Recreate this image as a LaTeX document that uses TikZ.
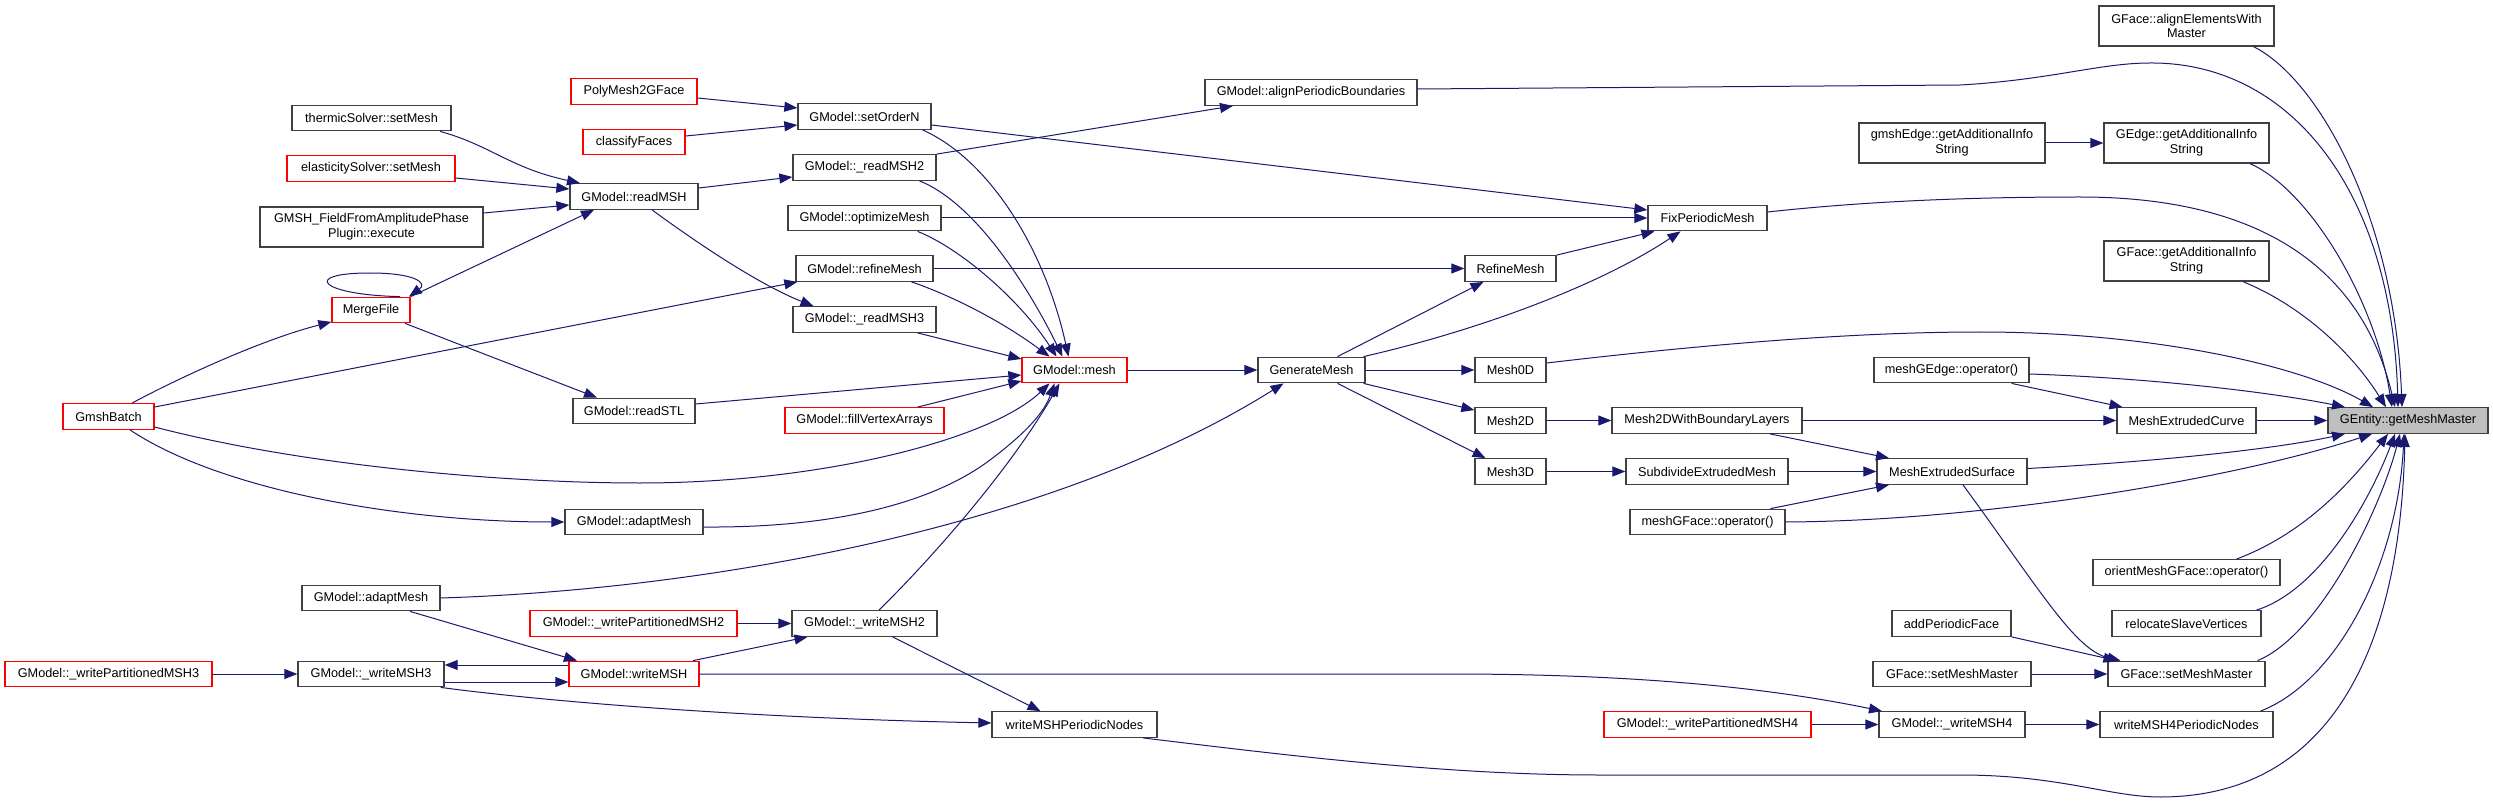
\documentclass[tikz,border=0pt]{standalone}
\usepackage{fontspec}
\setmainfont{Liberation Sans}
\usetikzlibrary{arrows.meta}
\definecolor{edgeblue}{HTML}{191970}
\definecolor{ndgray}{HTML}{404040}
\definecolor{rootfill}{HTML}{BFBFBF}
\newcommand\ndfont{\fontsize{12.7}{14.7}\selectfont}
\tikzset{
 nd/.style={draw=ndgray, line width=1.3pt, fill=white, inner sep=0pt, minimum height=25.5pt, font=\ndfont, text=black, align=center},
 rd/.style={nd, draw=red},
 ed/.style={draw=edgeblue, line width=1pt, -{Triangle[length=13pt,width=10pt]}},
}
\begin{document}
\begin{tikzpicture}[x=1pt,y=-1pt]
\fill[white] (0,0) rectangle (2493,802);
\useasboundingbox (0,0) rectangle (2493,802);
% nodes
\node[rd, minimum width=91pt] (gmshbatch) at (108.5,416.5) {GmshBatch};
\node[rd, minimum width=207pt] (wpm3) at (108.5,674) {GModel::\_writePartitionedMSH3};
\node[nd, minimum width=159pt] (thermic) at (371.5,118) {thermicSolver::setMesh};
\node[rd, minimum width=168pt] (elastic) at (371,168.5) {elasticitySolver::setMesh};
\node[nd, minimum width=223pt, minimum height=40pt] (gmshfield) at (371.5,227) {GMSH\_FieldFromAmplitudePhase\\Plugin::execute};
\node[rd, minimum width=78pt] (mergefile) at (371,310) {MergeFile};
\node[nd, minimum width=138pt] (adapttwo) at (371,598) {GModel::adaptMesh};
\node[nd, minimum width=146pt] (wmshthree) at (371,674) {GModel::\_writeMSH3};
\node[rd, minimum width=126pt] (poly) at (634,91.5) {PolyMesh2GFace};
\node[rd, minimum width=102pt] (classify) at (634,142) {classifyFaces};
\node[nd, minimum width=128pt] (readmsh) at (634,196.5) {GModel::readMSH};
\node[nd, minimum width=122pt] (readstl) at (634,411) {GModel::readSTL};
\node[nd, minimum width=138pt] (adaptone) at (634,522) {GModel::adaptMesh};
\node[rd, minimum width=207pt] (wpmtwo) at (633.5,623.5) {GModel::\_writePartitionedMSH2};
\node[rd, minimum width=130pt] (writemsh) at (634,674) {GModel::writeMSH};
\node[nd, minimum width=133pt] (setorder) at (864.5,116.5) {GModel::setOrderN};
\node[nd, minimum width=143pt] (readmshtwo) at (864.5,167.5) {GModel::\_readMSH2};
\node[nd, minimum width=153pt] (optimize) at (864.5,218) {GModel::optimizeMesh};
\node[nd, minimum width=137pt] (refinemesh) at (864.5,268.5) {GModel::refineMesh};
\node[nd, minimum width=143pt] (readmshthree) at (864.5,319.5) {GModel::\_readMSH3};
\node[rd, minimum width=159pt] (fillva) at (864.5,420.5) {GModel::fillVertexArrays};
\node[nd, minimum width=145pt] (wmshtwo) at (864.5,623.5) {GModel::\_writeMSH2};
\node[rd, minimum width=105pt] (mesh) at (1074.5,370) {GModel::mesh};
\node[nd, minimum width=165pt] (wmshpn) at (1074.5,724.5) {writeMSHPeriodicNodes};
\node[nd, minimum width=212pt] (alignpb) at (1311,92.5) {GModel::alignPeriodicBoundaries};
\node[nd, minimum width=107pt] (genmesh) at (1311.5,370) {GenerateMesh};
\node[nd, minimum width=91pt] (refinetwo) at (1510.5,268.5) {RefineMesh};
\node[nd, minimum width=71pt] (meshzero) at (1510.5,370) {Mesh0D};
\node[nd, minimum width=71pt] (meshtwod) at (1510.5,420.5) {Mesh2D};
\node[nd, minimum width=71pt] (meshthreed) at (1510.5,471.5) {Mesh3D};
\node[nd, minimum width=119pt] (fixpm) at (1707.5,218) {FixPeriodicMesh};
\node[nd, minimum width=190pt] (mtdbl) at (1707,420.5) {Mesh2DWithBoundaryLayers};
\node[nd, minimum width=162pt] (subdiv) at (1707,471.5) {SubdivideExtrudedMesh};
\node[nd, minimum width=155pt] (meshgface) at (1707.5,522) {meshGFace::operator()};
\node[rd, minimum width=207pt] (wpmfour) at (1707.5,724.5) {GModel::\_writePartitionedMSH4};
\node[nd, minimum width=186pt, minimum height=40pt] (gmshedge) at (1952,143) {gmshEdge::getAdditionalInfo\\String};
\node[nd, minimum width=155pt] (meshgedge) at (1951.5,370) {meshGEdge::operator()};
\node[nd, minimum width=150pt] (mes) at (1952,471.5) {MeshExtrudedSurface};
\node[nd, minimum width=119pt] (addpf) at (1951.5,623.5) {addPeriodicFace};
\node[nd, minimum width=158pt] (gfsmmone) at (1952,674) {GFace::setMeshMaster};
\node[nd, minimum width=146pt] (wmshfour) at (1952,724.5) {GModel::\_writeMSH4};
\node[nd, minimum width=175pt, minimum height=40pt] (gfaem) at (2186.5,26) {GFace::alignElementsWith\\Master};
\node[nd, minimum width=165pt, minimum height=40pt] (gegais) at (2186.5,143) {GEdge::getAdditionalInfo\\String};
\node[nd, minimum width=165pt, minimum height=40pt] (gfgais) at (2186.5,261) {GFace::getAdditionalInfo\\String};
\node[nd, minimum width=139pt] (mec) at (2186.5,420.5) {MeshExtrudedCurve};
\node[nd, minimum width=187pt] (omgf) at (2186.5,572.5) {orientMeshGFace::operator()};
\node[nd, minimum width=149pt] (rsv) at (2186.5,623.5) {relocateSlaveVertices};
\node[nd, minimum width=157pt] (gfsmmtwo) at (2186.5,674) {GFace::setMeshMaster};
\node[nd, minimum width=173pt] (wmfpn) at (2186.5,724.5) {writeMSH4PeriodicNodes};
\node[nd, minimum width=160pt, fill=rootfill] (gemm) at (2408,420.5) {GEntity::getMeshMaster};
% edges
\draw[ed] ([xshift=23.5pt]gmshbatch.north) .. controls (175,380) and (260,340) .. ([yshift=1.5pt]mergefile.south west);
\draw[ed] ([xshift=29pt]mergefile.north) .. controls (320,295) and (300,273) .. (370,273) .. controls (415,273) and (428,283) .. ([xshift=38pt]mergefile.north);
\draw[ed] (mergefile.north east) -- ([xshift=-40pt]readmsh.south);
\draw[ed] ([xshift=34pt]mergefile.south) -- ([xshift=-37pt]readstl.north);
\draw[ed] ([yshift=9.5pt]gmshbatch.east) -- ([xshift=2pt]refinemesh.south west);
\draw[ed] ([yshift=-10.5pt]gmshbatch.east) .. controls (300,465) and (500,483) .. (640,483) .. controls (820,483) and (990,440) .. ([xshift=-25pt]mesh.south);
\draw[ed] ([xshift=21.5pt]gmshbatch.south) .. controls (220,490) and (400,522) .. (adaptone.west);
\draw[ed] ([yshift=-5pt]adaptone.east) .. controls (830,528) and (930,505) .. (990,460) .. controls (1030,430) and (1045,410) .. ([xshift=-20pt]mesh.south);
\draw[ed] (adapttwo.east) .. controls (700,590) and (1050,530) .. ([xshift=-28pt]genmesh.south);
\draw[ed] ([xshift=39pt]adapttwo.south) -- ([xshift=-57pt]writemsh.north);
\draw[ed] (wpm3.east) -- (wmshthree.west);
\draw[ed] ([yshift=9pt]writemsh.west) -- ([yshift=9pt]wmshthree.east);
\draw[ed] ([yshift=-8pt]wmshthree.east) -- ([yshift=-8pt]writemsh.west);
\draw[ed] ([xshift=-4pt]wmshthree.south east) .. controls (550,702) and (750,718) .. ([yshift=1.5pt]wmshpn.west);
\draw[ed] ([xshift=59pt]writemsh.north) -- ([xshift=-57pt]wmshtwo.south);
\draw[ed] (writemsh.east) -- (1450,674) .. controls (1650,674) and (1780,690) .. ([xshift=-70pt]wmshfour.north);
\draw[ed] (wpmtwo.east) -- (wmshtwo.west);
\draw[ed] ([xshift=14.5pt]wmshtwo.north) .. controls (930,560) and (1010,470) .. ([xshift=-15pt]mesh.south);
\draw[ed] ([xshift=28pt]wmshtwo.south) -- ([xshift=-34pt]wmshpn.north);
\draw[ed] ([xshift=68.5pt]wmshpn.south) .. controls (1300,757) and (1450,775) .. (1600,775) -- (1960,775) .. controls (2060,775) and (2110,797) .. (2160,797) .. controls (2330,797) and (2400,650) .. ([xshift=-3pt]gemm.south);
\draw[ed] ([xshift=74pt]wmfpn.north) .. controls (2340,680) and (2398,560) .. ([xshift=-4pt]gemm.south);
\draw[ed] (wmshfour.east) -- (wmfpn.west);
\draw[ed] (wpmfour.east) -- (wmshfour.west);
\draw[ed] (gfsmmone.east) -- (gfsmmtwo.west);
\draw[ed] (addpf.south east) -- ([xshift=-70pt]gfsmmtwo.north);
\draw[ed] ([xshift=11pt]mes.south) .. controls (2040,590) and (2075,650) .. ([xshift=-66pt]gfsmmtwo.north);
\draw[ed] ([xshift=71pt]gfsmmtwo.north) .. controls (2320,635) and (2380,510) .. ([xshift=-8pt]gemm.south);
\draw[ed] ([xshift=70pt]rsv.north) .. controls (2320,590) and (2370,500) .. ([xshift=-13pt]gemm.south);
\draw[ed] ([xshift=50pt]omgf.north) .. controls (2300,535) and (2345,490) .. ([xshift=-20pt]gemm.south);
\draw[ed] ([xshift=63pt]meshgface.north) -- ([xshift=-63pt]mes.south);
\draw[ed] (meshgface.east) .. controls (1980,521) and (2230,480) .. ([xshift=-36pt]gemm.south);
\draw[ed] ([yshift=3pt]mes.east) .. controls (2150,462) and (2270,450) .. ([xshift=-63pt]gemm.south);
\draw[ed] (subdiv.east) -- (mes.west);
\draw[ed] ([xshift=63pt]mtdbl.south) -- ([xshift=-63pt]mes.north);
\draw[ed] (mtdbl.east) -- (mec.west);
\draw[ed] (mec.east) -- (gemm.west);
\draw[ed] ([xshift=60pt]meshgedge.south) -- ([xshift=-64pt]mec.north);
\draw[ed] ([yshift=-4pt]meshgedge.east) .. controls (2150,378) and (2270,392) .. ([xshift=-63pt]gemm.north);
\draw[ed] ([yshift=7pt]meshzero.east) .. controls (1700,345) and (1850,332) .. (1980,332) .. controls (2150,332) and (2300,365) .. ([xshift=-35pt]gemm.north);
\draw[ed] (meshtwod.east) -- (mtdbl.west);
\draw[ed] (meshthreed.east) -- (subdiv.west);
\draw[ed] (genmesh.east) -- (meshzero.west);
\draw[ed] ([xshift=52pt]genmesh.south) -- ([yshift=-3pt]meshtwod.north west);
\draw[ed] ([xshift=26pt]genmesh.south) -- ([xshift=-25pt]meshthreed.north);
\draw[ed] ([xshift=26pt]genmesh.north) -- ([xshift=-27pt]refinetwo.south);
\draw[ed] ([xshift=52pt]genmesh.north) .. controls (1480,330) and (1600,285) .. ([xshift=-27pt]fixpm.south);
\draw[ed] (refinetwo.north east) -- ([xshift=-53pt]fixpm.south);
\draw[ed] (mesh.east) -- (genmesh.west);
\draw[ed] (refinemesh.east) -- (refinetwo.west);
\draw[ed] (optimize.east) -- (fixpm.west);
\draw[ed] ([yshift=-8.5pt]setorder.east) -- ([yshift=8pt]fixpm.west);
\draw[ed] (readmshtwo.north east) -- ([xshift=-78pt]alignpb.south);
\draw[ed] ([yshift=3.5pt]alignpb.east) -- (1960,85) .. controls (2050,80) and (2100,63) .. (2150,63) .. controls (2290,62) and (2392,190) .. ([xshift=-10pt]gemm.north);
\draw[ed] ([yshift=6pt]fixpm.east) .. controls (1850,203) and (1950,197) .. (2080,197) .. controls (2250,197) and (2360,260) .. ([xshift=-13pt]gemm.north);
\draw[ed] ([xshift=67pt]gfaem.south) .. controls (2320,80) and (2395,220) .. ([xshift=-6pt]gemm.north);
\draw[ed] ([xshift=63.5pt]gegais.south) .. controls (2310,190) and (2375,300) .. ([xshift=-16pt]gemm.north);
\draw[ed] (gmshedge.east) -- (gegais.west);
\draw[ed] ([xshift=56.5pt]gfgais.south) .. controls (2300,305) and (2350,350) .. ([xshift=-22pt]gemm.north);
\draw[ed] ([xshift=58pt]setorder.south) .. controls (990,160) and (1045,250) .. ([xshift=-6pt]mesh.north);
\draw[ed] ([xshift=55pt]readmshtwo.south) .. controls (980,205) and (1035,300) .. ([xshift=-12pt]mesh.north);
\draw[ed] ([xshift=53pt]optimize.south) .. controls (960,248) and (1020,300) .. ([xshift=-18pt]mesh.north);
\draw[ed] ([xshift=47pt]refinemesh.south) .. controls (950,295) and (1000,320) .. ([xshift=-25pt]mesh.north);
\draw[ed] ([xshift=53pt]readmshthree.south) -- ([yshift=11pt]mesh.west);
\draw[ed] ([yshift=7pt]readstl.east) -- ([yshift=-5pt]mesh.west);
\draw[ed] ([xshift=53pt]fillva.north) -- ([yshift=-11pt]mesh.west);
\draw[ed] ([yshift=-6.5pt]poly.east) -- ([yshift=8.5pt]setorder.west);
\draw[ed] ([yshift=6pt]classify.east) -- ([yshift=-8.5pt]setorder.west);
\draw[ed] ([yshift=8.5pt]readmsh.east) -- ([yshift=-9.5pt]readmshtwo.west);
\draw[ed] ([xshift=18pt]readmsh.south) .. controls (700,245) and (760,285) .. ([xshift=-51pt]readmshthree.north);
\draw[ed] ([xshift=68.5pt]thermic.south) .. controls (490,145) and (510,168) .. ([xshift=-54pt]readmsh.north);
\draw[ed] ([yshift=-9.5pt]elastic.east) -- ([yshift=7.5pt]readmsh.west);
\draw[ed] ([yshift=14pt]gmshfield.east) -- ([yshift=-8.5pt]readmsh.west);
\end{tikzpicture}
\end{document}
